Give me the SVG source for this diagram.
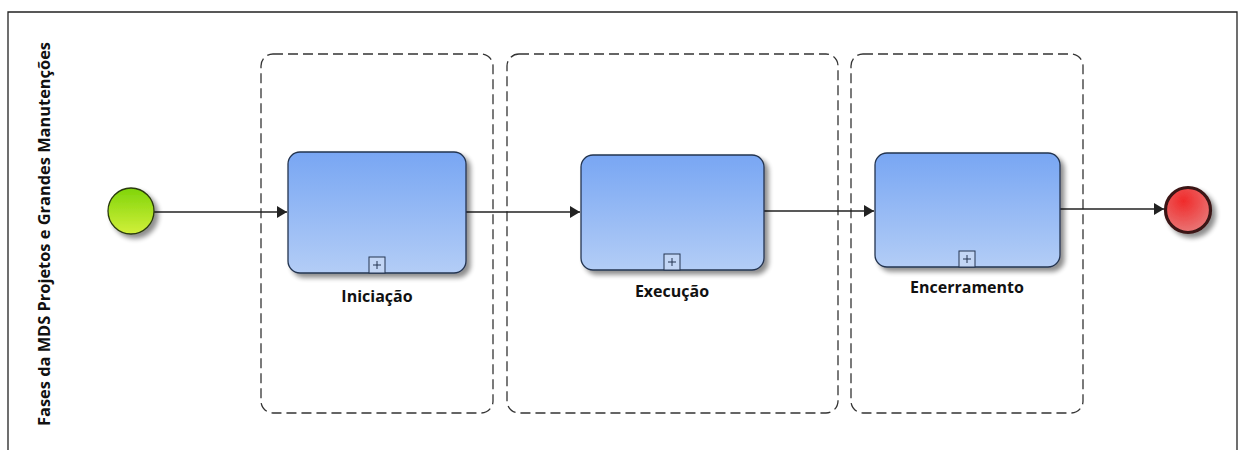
<svg xmlns="http://www.w3.org/2000/svg" width="1239" height="450" viewBox="0 0 1239 450">
  <defs>
    <linearGradient id="taskFill" x1="0" y1="0" x2="0" y2="1">
      <stop offset="0" stop-color="#78a6f3"/>
      <stop offset="1" stop-color="#b3cdf6"/>
    </linearGradient>
    <linearGradient id="startFill" x1="0" y1="0" x2="0" y2="1">
      <stop offset="0" stop-color="#7fd40a"/>
      <stop offset="1" stop-color="#d2f03a"/>
    </linearGradient>
    <radialGradient id="endFill" cx="0.4" cy="0.3" r="0.8">
      <stop offset="0" stop-color="#f02a2a"/>
      <stop offset="1" stop-color="#e88080"/>
    </radialGradient>
    <filter id="shadow" x="-20%" y="-20%" width="150%" height="150%">
      <feGaussianBlur in="SourceAlpha" stdDeviation="2.5"/>
      <feOffset dx="4" dy="4" result="b"/>
      <feComponentTransfer><feFuncA type="linear" slope="0.45"/></feComponentTransfer>
      <feMerge><feMergeNode/><feMergeNode in="SourceGraphic"/></feMerge>
    </filter>
    <marker id="arrow" viewBox="0 0 10 12" refX="10" refY="6" markerWidth="10" markerHeight="12" markerUnits="userSpaceOnUse" orient="auto">
      <path d="M0,0 L10,6 L0,12 z" fill="#222"/>
    </marker>
  </defs>
  <style>
    .frame { fill: none; stroke: #222; stroke-width: 1.3; }
    .lane { fill: none; stroke: #333; stroke-width: 1.3; stroke-dasharray: 10 5; }
    .task { fill: url(#taskFill); stroke: #243450; stroke-width: 1.3; }
    .plus { fill: #c3d6f5; stroke: #243450; stroke-width: 1; }
    .plusmark { stroke: #243450; stroke-width: 1; }
    .label { font-family: "Open Sans", "Liberation Sans", sans-serif; font-weight: bold; font-size: 16px; fill: #111; text-anchor: middle; }
    .flow { fill: none; stroke: #222; stroke-width: 1.7; }
  </style>

  <rect width="1239" height="450" fill="#ffffff"/>

  <!-- pool frame -->
  <g id="pool">
    <path class="frame" d="M8,460 L8,12 L1237,12 L1237,460"/>
    <text class="label" transform="translate(50,234) rotate(-90)" font-size="15.5" textLength="384" lengthAdjust="spacingAndGlyphs">Fases da MDS Projetos e Grandes Manutenções</text>
  </g>

  <!-- phase groups -->
  <g id="group-iniciacao"><rect class="lane" x="261" y="54" width="232" height="359" rx="12"/></g>
  <g id="group-execucao"><rect class="lane" x="507" y="54" width="331" height="359" rx="12"/></g>
  <g id="group-encerramento"><rect class="lane" x="851" y="54" width="232" height="359" rx="12"/></g>

  <!-- connectors -->
  <g id="connectors">
    <line class="flow" x1="154" y1="212" x2="287" y2="212" marker-end="url(#arrow)"/>
    <line class="flow" x1="466" y1="212" x2="580" y2="212" marker-end="url(#arrow)"/>
    <line class="flow" x1="764" y1="211" x2="874" y2="211" marker-end="url(#arrow)"/>
    <line class="flow" x1="1060" y1="209" x2="1164" y2="209" marker-end="url(#arrow)"/>
  </g>

  <!-- start event -->
  <g id="start">
    <circle cx="131" cy="211" r="23" fill="url(#startFill)" stroke="#2a3a10" stroke-width="1.3" filter="url(#shadow)"/>
  </g>

  <!-- sub-processes -->
  <g id="task-iniciacao">
    <rect class="task" x="288" y="152" width="178" height="121" rx="12" filter="url(#shadow)"/>
    <rect class="plus" x="369" y="257" width="16" height="16"/>
    <path class="plusmark" d="M373,265 H381 M377,261 V269"/>
    <text class="label" x="377" y="302">Iniciação</text>
  </g>
  <g id="task-execucao">
    <rect class="task" x="581" y="155" width="183" height="115" rx="12" filter="url(#shadow)"/>
    <rect class="plus" x="664" y="254" width="16" height="16"/>
    <path class="plusmark" d="M668,262 H676 M672,258 V266"/>
    <text class="label" x="672" y="297">Execução</text>
  </g>
  <g id="task-encerramento">
    <rect class="task" x="875" y="153" width="185" height="114" rx="12" filter="url(#shadow)"/>
    <rect class="plus" x="959" y="251" width="16" height="16"/>
    <path class="plusmark" d="M963,259 H971 M967,255 V263"/>
    <text class="label" x="967" y="293">Encerramento</text>
  </g>

  <!-- end event -->
  <g id="end">
    <circle cx="1188" cy="210" r="22.5" fill="url(#endFill)" stroke="#3a1414" stroke-width="3.2" filter="url(#shadow)"/>
  </g>
</svg>
